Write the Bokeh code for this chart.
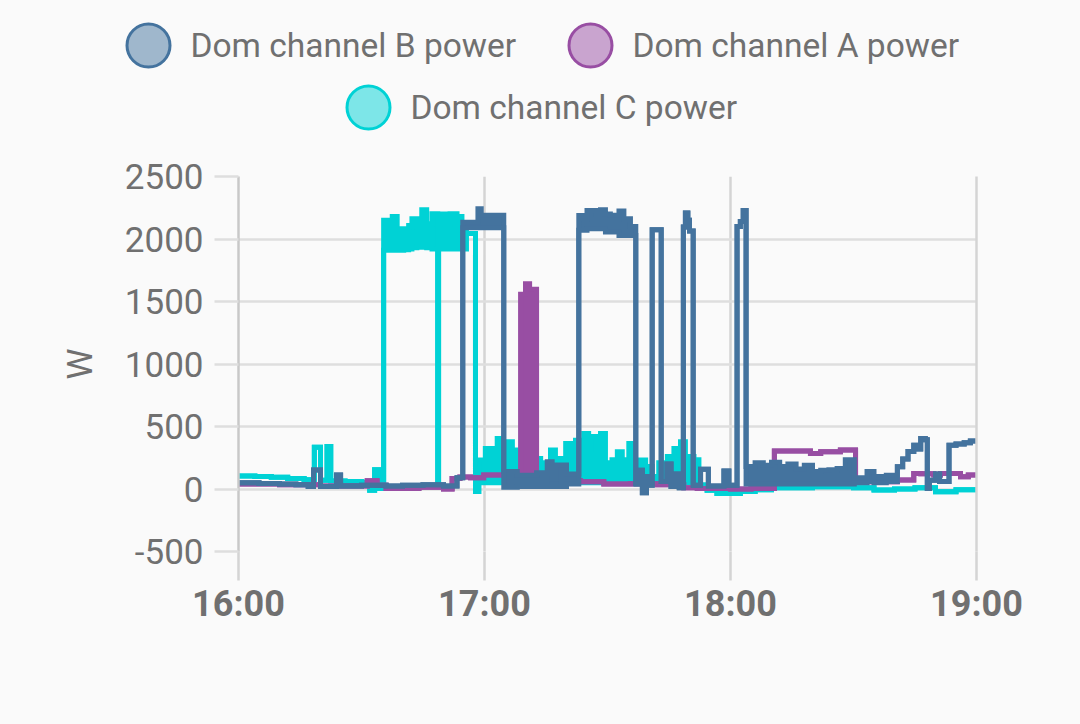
import numpy as np
import pandas as pd
from bokeh.plotting import figure
from bokeh.layouts import column
from bokeh.models import Range1d, FixedTicker, DatetimeTickFormatter, ColumnDataSource, LinearAxis
from bokeh.embed import file_html
from bokeh.resources import INLINE
from bokeh.core.properties import value

DAY = "2024-01-01"
X_TICK_LABELS = ["16:00", "17:00", "18:00", "19:00"]
Y_TICKS = [-500, 0, 500, 1000, 1500, 2000, 2500]
Y_TICK_LABELS = ["-500", "0", "500", "1000", "1500", "2000", "2500"]
Y_LABEL = "W"
SERIES_NAMES = ["Dom channel B power", "Dom channel A power", "Dom channel C power"]
SERIES_COLORS = ["#44739e", "#984ea3", "#00d2d5"]

# minutes after 16:00, lower / upper envelope of each step (W)
B_T  = [0, 5, 10, 14, 17, 18.3, 20, 23.9, 24.9, 30, 36, 40, 45, 50, 53.3,
        54.7, 58.4, 59.2, 64.7, 68, 72.7, 75.3, 76.5, 77.5, 80.0,
        83.0, 83.8, 85.0, 87.1, 88.3, 89.5, 90.7, 92.8, 94.0, 95.6,
        96.9, 97.8, 98.5, 99.5, 100.2,
        100.9, 103.1, 104.5, 105.5, 106.5, 107.5,
        108.5, 109.0, 109.6, 110.0, 110.9, 112.7, 114.6,
        118.4, 119.6, 121.6, 122.4, 123.1, 123.8, 126, 128, 130, 132,
        134, 136, 138, 140, 142, 144, 146, 148, 150.2, 153.3,
        155, 158, 160.7, 162, 163.3, 164.7, 165.5, 166.4, 167.5, 168,
        168.5, 170, 171, 173.3, 175, 177, 178.5, 180]
B_LO = [50, 45, 40, 35, 20, 152, 20, 112, 25, 30, 25, 30, 35, 25, 90,
        2090, 2090, 2090, 15, 20, 20, 20, 40, 20, 40,
        2070, 2070, 2083, 2083, 2083, 2056, 2056, 2029, 2029, 2029,
        40, 150, -30, 100, 30,
        2075, 60, 200, 20, 120, 10,
        2096, 2208, 2150, 2065, 30, 158, 25,
        145, 30, 2101, 2140, 2229, 40, 40, 40, 40, 40,
        40, 40, 40, 40, 40, 40, 40, 40, 50, 60,
        50, 60, 178, 240, 300, 351, 320, 405, 395, 5,
        70, 120, 60, 351, 360, 370, 385, 397]
B_HI = [50, 45, 40, 35, 20, 152, 20, 112, 25, 30, 25, 30, 35, 25, 90,
        2135, 2242, 2190, 140, 110, 130, 218, 90, 192, 120,
        2189, 2163, 2229, 2203, 2234, 2200, 2190, 2225, 2163, 2101,
        40, 150, -30, 100, 30,
        2075, 60, 200, 20, 120, 10,
        2096, 2208, 2150, 2065, 30, 158, 25,
        145, 30, 2101, 2140, 2229, 180, 210, 190, 215, 180,
        200, 160, 190, 140, 150, 155, 165, 235, 90, 140,
        100, 110, 178, 240, 300, 351, 320, 405, 395, 5,
        70, 120, 60, 351, 360, 370, 385, 397]

A_T  = [0, 10, 20, 30, 31.4, 33.8, 36, 44, 50, 52.1, 54, 56.6, 59.8,
        68.8, 70.0, 71.0, 72.7, 83.4, 89.1, 95.6, 102.1, 108.6, 111.9, 120, 125,
        130.7, 139.5, 142, 146.8, 150.5, 160.7, 164.7, 166.4, 169.6, 171.2,
        176.1, 178, 180]
A_LO = [40, 35, 25, 25, 66, 30, 5, 15, 0, 85, 96, 90, 112,
        100, 100, 100, 66, 58, 40, 42, 35, 10, 5, 0, 5,
        304, 285, 298, 312, 58, 72, 125, 122, 112, 125,
        98, 112, 112]
A_HI = [40, 35, 25, 25, 66, 30, 5, 15, 0, 85, 96, 90, 112,
        1558, 1643, 1598, 66, 58, 40, 42, 35, 10, 5, 0, 5,
        304, 285, 298, 312, 58, 72, 125, 122, 112, 125,
        98, 112, 112]

C_T  = [0, 4, 8, 12, 16, 18.5, 20, 21.6, 22.5, 26, 30, 32, 33.2, 34.2,
        35.4, 36.5, 37.5, 38.7, 40.3, 41.5, 42.3, 43.5, 44.7, 45.9, 47.2, 48.6,
        48.8, 50.4, 51.6, 53.3, 54.5, 55.6, 57.8,
        58.6, 60.2, 62.3, 63.1, 64.3, 65.5, 66.8, 68.1, 68.8, 72.7,
        73.7, 74.5, 76.1, 77.3, 79.8, 81.0, 82.2, 83.0, 84.2, 85.4,
        87.1, 88.3, 89.5, 91.1, 92.4, 93.6, 95.2, 96.3, 98.0, 99.3,
        100.9, 102.5, 104.6, 106.2, 107.8, 109.0, 111.1, 112.3, 114.3, 116.7,
        122.4, 126, 130, 140, 150, 155, 160, 165, 170, 175, 180]
C_LO = [105, 100, 95, 85, 75, 335, 70, 340, 65, 60, 55, -10, 155, 5,
        1910, 1910, 1910, 1910, 1915, 1920, 1930, 1935, 1935, 1930, 1920, 40,
        1920, 1920, 1920, 1920, 1920, 2045, -20,
        50, 50, 50, 50, 50, 50, 50, 50, 50, 50,
        50, 50, 50, 50, 50, 50, 50, 50, 50, 50,
        50, 50, 50, 50, 50, 50, 50, 50, 50, 50,
        50, 50, 50, 50, 50, 50, 50, 32, -10, -35,
        -20, -5, 10, 18, 10, -8, 0, 10, -21, -5, 5]
C_HI = [105, 100, 95, 85, 75, 335, 70, 340, 65, 60, 55, -10, 155, 5,
        2150, 2096, 2181, 2083, 2043, 2109, 2163, 2096, 2234, 2123, 2203, 40,
        2200, 2123, 2203, 2181, 2070, 2045, -20,
        232, 325, 220, 405, 280, 378, 312, 200, 250, 245,
        210, 152, 312, 245, 365, 312, 391, 290, 445, 420,
        312, 445, 210, 235, 298, 235, 365, 125, 232, 180,
        100, 210, 260, 325, 378, 260, 235, 32, -10, -35,
        -20, -5, 10, 18, 10, -8, 0, 10, -21, -5, 5]

BG = "#fafafa"
TEXT = "#707070"
FONT = "Roboto"
VGRID = "#d4d4d4"
HGRID = "#dedede"

W, H = 1080, 724
LEG_H = 150
FRAME_L, FRAME_R, FRAME_T, FRAME_B = 238, 976, 176, 551   # page pixels

base = pd.Timestamp(f"{DAY} {X_TICK_LABELS[0]}")
tick_ms = [pd.Timestamp(f"{DAY} {lab}").value / 1e6 for lab in X_TICK_LABELS]


def to_dt(mins):
    return (base + pd.to_timedelta(np.asarray(mins, dtype=float), unit="m")).values


# ---------- legend figure (page-pixel coordinates) ----------
lg = figure(width=W, height=LEG_H, x_range=Range1d(0, W), y_range=Range1d(LEG_H, 0),
            output_backend="svg", toolbar_location=None, min_border=0,
            x_axis_type=None, y_axis_type=None,
            background_fill_color=BG, border_fill_color=BG, outline_line_color=None)
lg.frame_align = False
lg_cx = [148, 590, 368]
lg_cy = [45, 45, 107]
lg_tx = [x + 42 for x in lg_cx]
lg.scatter(x=lg_cx, y=lg_cy, size=43, marker="circle", fill_color=SERIES_COLORS,
           fill_alpha=0.5, line_color=SERIES_COLORS, line_width=3)
lg.text(x=lg_tx, y=lg_cy, text=SERIES_NAMES, text_font=value(FONT), text_font_size="33.5px",
        text_color=TEXT, text_baseline="middle", text_align="left")

# ---------- main chart ----------
MH = H - LEG_H
p = figure(width=W, height=MH, x_axis_type="datetime",
           x_range=Range1d(tick_ms[0], tick_ms[-1]), y_range=Range1d(Y_TICKS[0], Y_TICKS[-1]),
           output_backend="svg", toolbar_location=None,
           min_border_left=FRAME_L, min_border_right=W - FRAME_R,
           min_border_top=FRAME_T - LEG_H, min_border_bottom=H - FRAME_B,
           background_fill_color=BG, border_fill_color=BG, outline_line_color=None)
p.frame_align = False

fmt = "%H:%M"
p.xaxis.ticker = FixedTicker(ticks=tick_ms)
p.xaxis.formatter = DatetimeTickFormatter(minutes=fmt, hourmin=fmt, hours=fmt, days=fmt)
p.xaxis.major_label_text_font = FONT
p.xaxis.major_label_text_font_size = "36px"
p.xaxis.major_label_text_font_style = "bold"
p.xaxis.major_label_text_color = TEXT
p.xaxis.major_label_standoff = 2
p.xaxis.major_tick_out = 29
p.xaxis.major_tick_in = 0
p.xaxis.major_tick_line_color = VGRID
p.xaxis.major_tick_line_width = 2.5
p.xaxis.minor_tick_line_color = None
p.xaxis.axis_line_color = None

p.yaxis.ticker = FixedTicker(ticks=Y_TICKS)
p.yaxis.major_label_overrides = dict(zip(Y_TICKS, Y_TICK_LABELS))
p.yaxis.major_label_text_font = FONT
p.yaxis.major_label_text_font_size = "35px"
p.yaxis.major_label_text_color = TEXT
p.yaxis.major_label_standoff = 11
p.yaxis.major_tick_out = 24
p.yaxis.major_tick_in = 0
p.yaxis.major_tick_line_color = HGRID
p.yaxis.major_tick_line_width = 2.5
p.yaxis.minor_tick_line_color = None
p.yaxis.axis_line_color = "#c8c8c8"
p.yaxis.axis_line_width = 2.5
p.yaxis.axis_label = Y_LABEL
p.yaxis.axis_label_text_font = FONT
p.yaxis.axis_label_text_font_size = "35px"
p.yaxis.axis_label_text_font_style = "normal"
p.yaxis.axis_label_text_color = TEXT
p.yaxis.axis_label_standoff = 21

# right edge line (19:00 grid line)
ra = LinearAxis(ticker=FixedTicker(ticks=[]), axis_line_color=VGRID, axis_line_width=2.5,
                major_label_text_font_size="0px", major_tick_line_color=None,
                minor_tick_line_color=None)
p.add_layout(ra, "right")

p.xgrid.ticker = FixedTicker(ticks=tick_ms)
p.xgrid.grid_line_color = VGRID
p.xgrid.grid_line_width = 2.5
p.ygrid.ticker = FixedTicker(ticks=Y_TICKS)
p.ygrid.grid_line_color = HGRID
p.ygrid.grid_line_width = 2.5

series = {
    "B": (B_T, B_LO, B_HI, SERIES_COLORS[0]),
    "A": (A_T, A_LO, A_HI, SERIES_COLORS[1]),
    "C": (C_T, C_LO, C_HI, SERIES_COLORS[2]),
}
for key in ["C", "A", "B"]:
    t, lo, hi, col = series[key]
    src = ColumnDataSource(dict(x=to_dt(t), lo=lo, hi=hi))
    p.varea_step(x="x", y1="lo", y2="hi", step_mode="after", fill_color=col, source=src)
    p.step("x", "hi", mode="after", line_width=5, line_color=col, line_join="miter", source=src)
    p.step("x", "lo", mode="after", line_width=5, line_color=col, line_join="miter", source=src)

layout = column(lg, p, spacing=0)
html = file_html(layout, INLINE)
i = html.rfind("</head>")
html = html[:i] + "<style>html,body{background:#fafafa;}</style>" + html[i:]
open("out.html", "w").write(html)
